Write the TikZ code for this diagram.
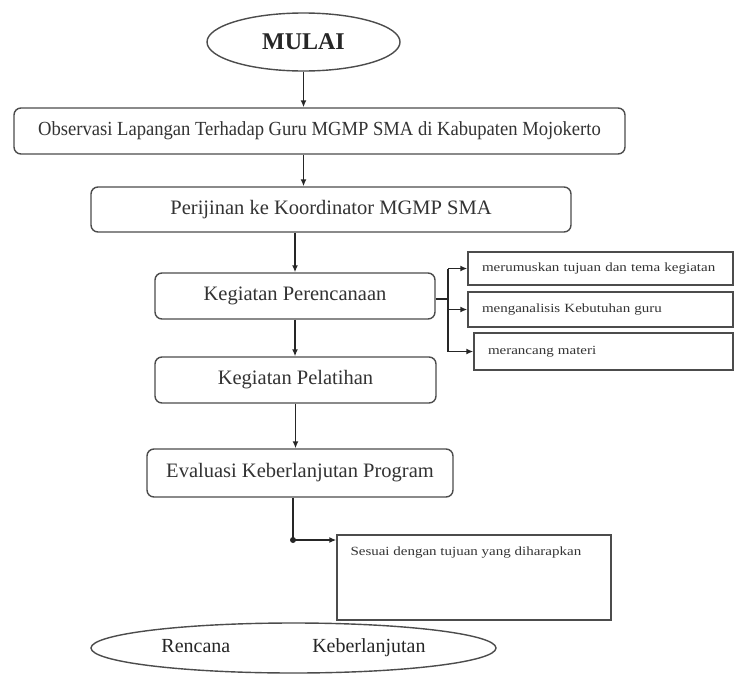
\documentclass[tikz,border=0pt]{standalone}
\usepackage{fontspec}
\setmainfont{Liberation Serif}
\newfontfamily\smallserif[FakeStretch=1.2]{Liberation Serif}
\newfontfamily\narrowserif[FakeStretch=0.93]{Liberation Serif}
\usetikzlibrary{arrows.meta,shapes.geometric,calc}
\begin{document}
\begin{tikzpicture}[x=1pt,y=-1pt,
  line/.style={draw=black!85,line width=1.4pt},
  arr/.style={line,-{Latex[length=7pt,width=6pt]}},
  box/.style={draw=black!70,line width=1.4pt,rounded corners=7pt,inner sep=0pt,
     font=\fontsize{20.5}{24}\selectfont,text=black!80},
  sbox/.style={draw=black!70,line width=1.4pt,inner sep=0pt,
     font=\smallserif\fontsize{12.5}{15}\selectfont,text=black!80},
  oval/.style={ellipse,draw=black!70,line width=1.4pt,inner sep=0pt,text=black!85}]
\useasboundingbox (0,0) rectangle (734,675);
\fill[white] (0,0) rectangle (734,675);

\node[oval,minimum width=193,minimum height=58,font=\bfseries\fontsize{24}{28}\selectfont]
  (mulai) at (303.5,42) {MULAI};
\node[box,minimum width=611,minimum height=46,font=\narrowserif\fontsize{20}{24}\selectfont] (obs) at (319.5,131)
  {Observasi Lapangan Terhadap Guru MGMP SMA di Kabupaten Mojokerto};
\node[box,minimum width=480,minimum height=45] (per) at (331,209.5)
  {Perijinan ke Koordinator MGMP SMA};
\node[box,minimum width=280,minimum height=46] (ren) at (295,296)
  {Kegiatan Perencanaan};
\node[box,minimum width=281,minimum height=46] (pel) at (295.5,380)
  {Kegiatan Pelatihan};
\node[box,minimum width=306,minimum height=48] (eva) at (300,473)
  {Evaluasi Keberlanjutan Program};

\node[sbox,minimum width=265,minimum height=33,text width=237,align=left] (b1) at (600.5,268.5)
  {\mbox{merumuskan tujuan dan tema kegiatan}};
\node[sbox,minimum width=265,minimum height=35,text width=237,align=left] (b2) at (600.5,309.5)
  {\mbox{menganalisis Kebutuhan guru}};
\node[sbox,minimum width=259,minimum height=37,text width=231,align=left] (b3) at (603.5,351.5)
  {\mbox{merancang materi}};

\node[sbox,minimum width=274,minimum height=85,
  label={[anchor=north west,inner sep=0pt,xshift=14pt,yshift=-12pt,
          font=\smallserif\fontsize{12.5}{15}\selectfont,text=black!80]north west:Sesuai dengan tujuan yang diharapkan}]
  (ses) at (474,577.5) {};

\node[oval,minimum width=405,minimum height=50,font=\fontsize{20}{24}\selectfont]
  (renc) at (293.5,648) {Rencana\hspace{82pt}Keberlanjutan};

% main flow
\draw[arr] (mulai.south) -- (mulai.south |- obs.north);
\draw[arr] (mulai.south |- obs.south) -- (mulai.south |- per.north);
\draw[arr] (ren.north |- per.south) -- (ren.north);
\draw[arr] (ren.south) -- (ren.south |- pel.north);
\draw[arr] (pel.south) -- (pel.south |- eva.north);

% branch to planning details
\coordinate (br) at (448,299);
\draw[line] (ren.east |- br) -- (br);
\draw[line] (br |- b1.west) -- (br |- b3.west);
\draw[arr] (br |- b1.west) -- (b1.west);
\draw[arr] (br |- b2.west) -- (b2.west);
\draw[arr] (br |- b3.west) -- (b3.west);

% evaluation outcome
\coordinate (dotc) at (293,540);
\draw[line] (dotc |- eva.south) -- (dotc);
\fill[black!85] (dotc) circle (3pt);
\draw[arr] (dotc) -- (dotc -| ses.west);
\end{tikzpicture}
\end{document}
